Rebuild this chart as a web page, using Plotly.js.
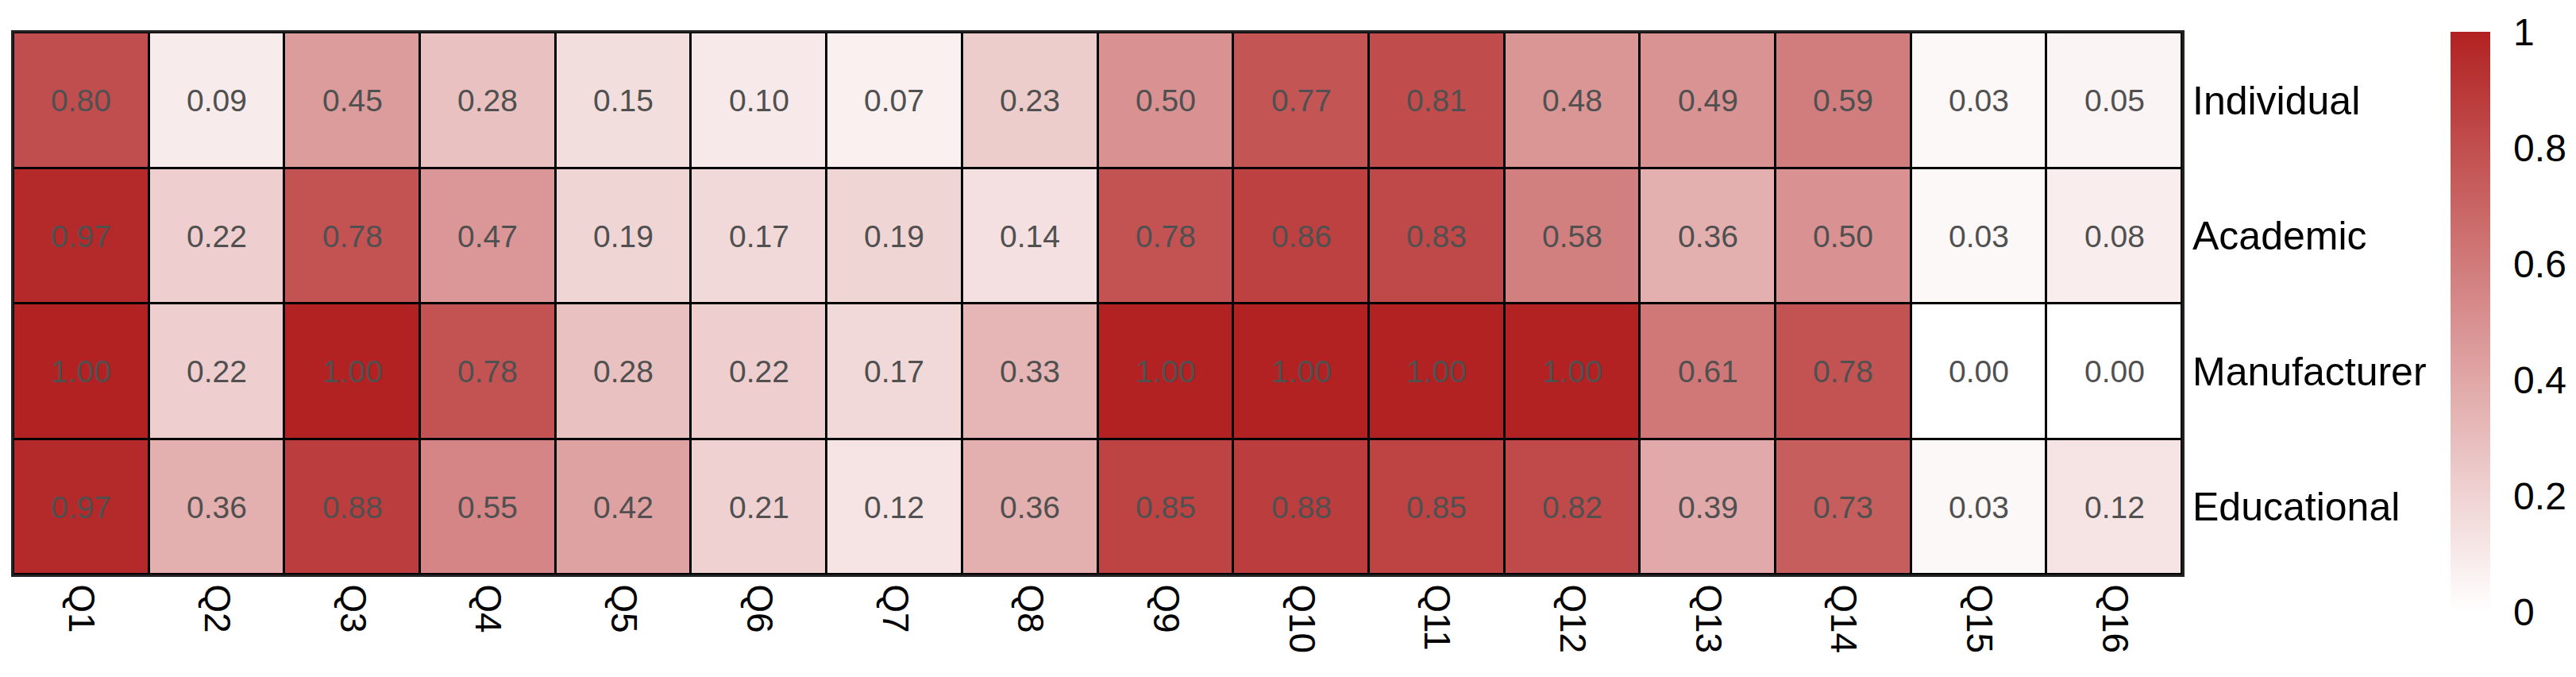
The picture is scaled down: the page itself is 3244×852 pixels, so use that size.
<!DOCTYPE html>
<html>
<head>
<meta charset="utf-8">
<script src="https://cdn.plot.ly/plotly-3.0.1.min.js"></script>
<style>html,body{margin:0;padding:0;background:#fff;}#chart{width:3244px;height:852px;}</style>
</head>
<body>
<div id="chart"></div>
<script>
const questions = ["Q1","Q2","Q3","Q4","Q5","Q6","Q7","Q8","Q9","Q10","Q11","Q12","Q13","Q14","Q15","Q16"];
const groups = ["Individual","Academic","Manufacturer","Educational"];
const individual   = [0.80,0.09,0.45,0.28,0.15,0.10,0.07,0.23,0.50,0.77,0.81,0.48,0.49,0.59,0.03,0.05];
const academic     = [0.97,0.22,0.78,0.47,0.19,0.17,0.19,0.14,0.78,0.86,0.83,0.58,0.36,0.50,0.03,0.08];
const manufacturer = [1.00,0.22,1.00,0.78,0.28,0.22,0.17,0.33,1.00,1.00,1.00,1.00,0.61,0.78,0.00,0.00];
const educational  = [0.97,0.36,0.88,0.55,0.42,0.21,0.12,0.36,0.85,0.88,0.85,0.82,0.39,0.73,0.03,0.12];
const colorTicks = [0,0.2,0.4,0.6,0.8,1];
const colorTickText = ["0","0.2","0.4","0.6","0.8","1"];

const FONT = '"Liberation Sans", Arial, sans-serif';

const trace = {
  type: 'heatmap',
  x: questions,
  y: groups,
  z: [individual, academic, manufacturer, educational],
  zmin: 0, zmax: 1,
  colorscale: [[0,'#FFFFFF'],[1,'#B22222']],
  xgap: 3, ygap: 3,
  texttemplate: '%{z:.2f}',
  textfont: {family: FONT, size: 39, color: '#505050'},
  hoverinfo: 'skip',
  colorbar: {
    thickness: 50,
    lenmode: 'pixels', len: 730,
    x: 1.1237, xanchor: 'left', xpad: 0,
    y: 0.4663, yanchor: 'middle', ypad: 0,
    outlinewidth: 0,
    tickmode: 'array', tickvals: colorTicks, ticktext: colorTickText,
    ticks: 'outside', ticklen: 20, tickcolor: 'rgba(0,0,0,0)',
    tickfont: {family: FONT, size: 48, color: '#000'}
  }
};

const layout = {
  width: 3244, height: 852,
  margin: {l: 17, r: 496, t: 41, b: 129, pad: 0},
  paper_bgcolor: '#FFFFFF',
  plot_bgcolor: '#000000',
  xaxis: {
    type: 'category', showgrid: false, zeroline: false,
    showline: true, mirror: true, linecolor: '#222', linewidth: 3,
    ticks: '', tickangle: 90,
    tickfont: {family: FONT, size: 46, color: '#000'}
  },
  yaxis: {
    type: 'category', autorange: 'reversed', side: 'right',
    showgrid: false, zeroline: false,
    showline: true, mirror: true, linecolor: '#222', linewidth: 3,
    ticks: '',
    tickfont: {family: FONT, size: 50, color: '#000'}
  },
  showlegend: false
};

Plotly.newPlot('chart', [trace], layout, {staticPlot: true, displayModeBar: false});
</script>
</body>
</html>
